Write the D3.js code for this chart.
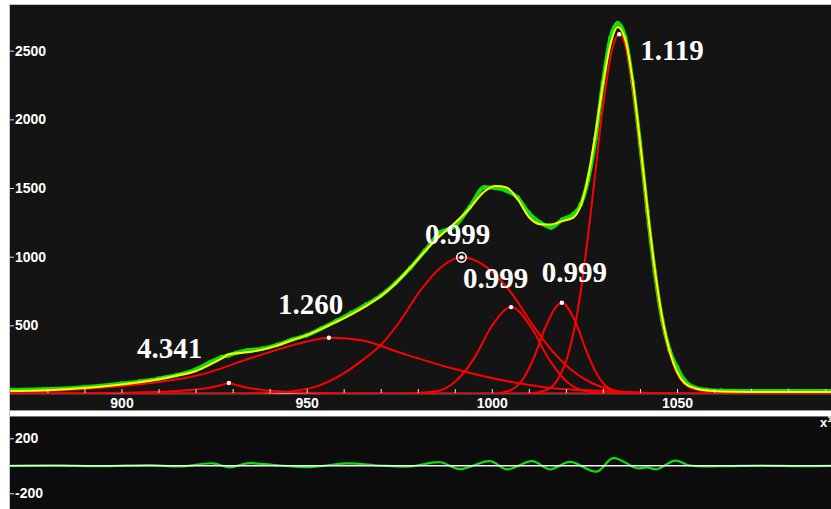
<!DOCTYPE html>
<html><head><meta charset="utf-8">
<script src="https://cdn.jsdelivr.net/npm/d3@7"></script>
<style>
html,body{margin:0;padding:0;background:#fff;overflow:hidden;}
svg{display:block;}
</style></head><body>
<svg id="chart" width="831" height="509"></svg>
<script>
// ---------- DATA ----------
const xGrid = [870,880,890,900,905,910,915,920,924,927,929,931,934,938,942,946,950,954,958,962,966,970,974,978,982,986,990,994,998,1001,1004,1007,1010,1013,1016,1019,1022,1024,1026,1028,1030,1032,1034,1036,1038,1040,1042,1044,1046,1048,1050,1052,1055,1058,1062,1070,1080,1092];
const fitY  = [21,28,44,70,85,107,134,166,215,258,290,296,304,323,352,391,427,474,525,578,640,712,805,920,1040,1150,1245,1351,1475,1514,1504,1417,1289,1237,1235,1259,1285,1371,1580,1900,2254,2541,2672,2584,2283,1839,1352,908,557,312,161,80,40,25,18,15,14,14];
const obsY  = [30,36,50,76,92,112,138,178,232,268,282,300,318,330,358,396,428,478,532,590,650,716,808,918,1046,1176,1222,1360,1505,1500,1480,1430,1318,1250,1212,1270,1310,1380,1560,1860,2270,2590,2700,2600,2270,1830,1330,890,540,320,195,100,45,30,24,22,22,22];

const comp1 = [[870,4],[890,6],[905,12],[915,22],[920,32],[924,48],[927,65],[929,80],[931,65],[934,46],[938,30],[944,17],[952,9],[965,4],[990,1],[1092,0]];
const comp2 = [[870,16],[880,22],[894,44],[908,80],[921,138],[935,262],[948.5,371],[956,410],[964.5,393],[975.5,298],[989,189],[1002.5,102],[1016,44],[1030,22],[1043,7],[1060,2],[1092,0]];
const comp3 = [[900,1],[930,3],[942,12],[952,50],[960,150],[965,245],[970.3,365],[975.2,530],[980.6,750],[986.4,925],[991.8,995],[998,935],[1005.3,735],[1010.7,517],[1016.1,320],[1021.5,175],[1027,80],[1032.4,29],[1040.5,7],[1060,1],[1092,0]];
const comp4 = [[975,0],[980,8],[985,20],[990,88],[995,250],[1000,495],[1005.2,633],[1010.5,490],[1015.5,250],[1020.5,84],[1025.5,19],[1031,3],[1045,0]];
const comp5 = [[995,0],[1000,1],[1004.5,22],[1008.5,113],[1011.5,273],[1014.5,488],[1018.9,665],[1022.5,530],[1025.5,315],[1028.5,138],[1032.5,29],[1037.5,3],[1050,0]];
const comp6 = [[1005,0],[1010,3],[1015,33],[1018,115],[1021,325],[1024,744],[1027,1387],[1030,2092],[1032.4,2500],[1034.4,2620],[1036.5,2490],[1039,2049],[1042,1338],[1045,706],[1048,305],[1051,107],[1055,32],[1060,14],[1070,10],[1092,8]];
const components = [comp1, comp2, comp3, comp4, comp5, comp6];

const peakX = [929, 956, 991.8, 1005.2, 1018.9, 1034.4];
const peakY = [80, 410, 995, 633, 665, 2620];
const peakLabels = ["4.341","1.260","0.999","0.999","0.999","1.119"];
const selectedPeak = 2;

const resX = [869.9,883.4,894.2,907.7,915.8,924.7,929.3,933.9,942.8,950.9,960.9,969.8,977.9,986,991.4,999.5,1004.1,1010.9,1015.7,1021.1,1028.4,1032.7,1039.2,1042,1044.6,1049.5,1053.5,1061.6,1072.4,1083.2,1091.6];
const resY = [0,3,-3,5,-5,18,-12,18,2,-10,18,2,-5,26,-24,34,-26,34,-26,28,-42,56,-18,-12,-25,38,2,-3,2,-2,0];

const yTicks = [500,1000,1500,2000,2500];
const xMinorTicks = [880,890,900,910,920,930,940,950,960,970,980,990,1000,1010,1020,1030,1040,1050,1060,1070,1080,1090];
const xTickLabels = [900,950,1000,1050];
const resTicks = [-200,200];

// ---------- LAYOUT ----------
const W = 831;
const labelOffsets = [[-92,-25],[-51,-24],[-36.5,-13],[-48,-19],[-20,-21],[21,26]];

const svg = d3.select("#chart");
const x = d3.scaleLinear().domain([900,1050]).range([121.5,677]);
const y = d3.scaleLinear().domain([0,2500]).range([394,50.7]);
const yr = d3.scaleLinear().domain([-200,200]).range([493.3,438.3]);

// backgrounds
svg.append("rect").attr("x",10).attr("y",5).attr("width",W-10).attr("height",405).attr("fill","#141414");
svg.append("line").attr("x1",9).attr("x2",W).attr("y1",4.5).attr("y2",4.5).attr("stroke","#c4c4c4");
svg.append("line").attr("x1",9.5).attr("x2",9.5).attr("y1",4).attr("y2",509).attr("stroke","#c4c4c4");
svg.append("rect").attr("x",10).attr("y",410).attr("width",W-10).attr("height",7).attr("fill","#ffffff");
svg.append("line").attr("x1",10).attr("x2",W).attr("y1",410.5).attr("y2",410.5).attr("stroke","#9a9a9a");
svg.append("line").attr("x1",10).attr("x2",W).attr("y1",416.5).attr("y2",416.5).attr("stroke","#777");
svg.append("rect").attr("x",10).attr("y",417).attr("width",W-10).attr("height",92).attr("fill","#0c0c0c");

const defs = svg.append("defs");
defs.append("clipPath").attr("id","clipMain").append("rect").attr("x",10).attr("y",5).attr("width",W-10).attr("height",389);
defs.append("clipPath").attr("id","clipRes").append("rect").attr("x",10).attr("y",417).attr("width",W-10).attr("height",92);

// axis line
svg.append("line").attr("x1",10).attr("x2",W).attr("y1",393.5).attr("y2",393.5).attr("stroke","#a8a8a8").attr("stroke-width",1.5);

const plot = svg.append("g").attr("clip-path","url(#clipMain)");
const line = d3.line().x(d=>x(d[0])).y(d=>y(d[1])).curve(d3.curveMonotoneX);

// observed (green)
const obs = xGrid.map((v,i)=>[v,obsY[i]]);
plot.append("path").datum(obs).attr("d",line).attr("fill","none").attr("stroke","#12dc12").attr("stroke-width",4);
plot.selectAll("circle.obs").data(obs).join("circle").attr("class","obs")
  .attr("cx",d=>x(d[0])).attr("cy",d=>y(d[1])).attr("r",2.4).attr("fill","#12dc12");

// components (red)
components.forEach(c=>{
  plot.append("path").datum(c).attr("d",line).attr("fill","none").attr("stroke","#ff0000").attr("stroke-width",2);
});

// fit envelope (yellow)
const fit = xGrid.map((v,i)=>[v,fitY[i]]);
plot.append("path").datum(fit).attr("d",line).attr("fill","none").attr("stroke","#ffff00").attr("stroke-width",2);

// markers
peakX.forEach((px,i)=>{
  plot.append("circle").attr("cx",x(px)).attr("cy",y(peakY[i])).attr("r",2.2).attr("fill","#fff");
  if(i===selectedPeak){
    plot.append("circle").attr("cx",x(px)).attr("cy",y(peakY[i])).attr("r",4.8).attr("fill","none").attr("stroke","#fff").attr("stroke-width",1.5);
  }
});

// peak labels
peakLabels.forEach((t,i)=>{
  svg.append("text").attr("x",x(peakX[i])+labelOffsets[i][0]).attr("y",y(peakY[i])+labelOffsets[i][1])
    .attr("fill","#fff").attr("font-family","'Liberation Serif','Times New Roman',serif")
    .attr("font-weight","bold").attr("font-size",29).text(t);
});

// y axis main
const yAxis = svg.append("g").attr("transform","translate(10,0)")
  .call(d3.axisRight(y).tickValues(yTicks).tickSize(4).tickPadding(1).tickFormat(d=>String(d)));
yAxis.select(".domain").remove();
yAxis.selectAll("line").attr("stroke","#ddd");
yAxis.selectAll("text").attr("fill","#fff").attr("font-family","'Liberation Sans',Arial,sans-serif").attr("font-weight","bold").attr("font-size",14);

// x axis
const xAxis = svg.append("g").attr("transform","translate(0,393)")
  .call(d3.axisBottom(x).tickValues(xMinorTicks).tickSizeInner(-4).tickSizeOuter(0).tickPadding(5)
    .tickFormat(d=>xTickLabels.includes(d)?String(d):""));
xAxis.select(".domain").remove();
xAxis.selectAll("line").attr("stroke","#e8e8e8");
xAxis.selectAll("text").attr("fill","#fff").attr("font-family","'Liberation Sans',Arial,sans-serif").attr("font-weight","bold").attr("font-size",14);

// residual panel
const rplot = svg.append("g").attr("clip-path","url(#clipRes)");
const rline = d3.line().x((d,i)=>x(resX[i])).y(d=>yr(d)).curve(d3.curveCatmullRom);
rplot.append("path").datum(resY).attr("d",rline).attr("fill","none").attr("stroke","#12dc12").attr("stroke-width",2.2);
rplot.append("line").attr("x1",10).attr("x2",W).attr("y1",yr(0)).attr("y2",yr(0)).attr("stroke","#fff").attr("stroke-width",1.6).attr("opacity",0.95);

const rAxis = svg.append("g").attr("transform","translate(10,0)")
  .call(d3.axisRight(yr).tickValues(resTicks).tickSize(4).tickPadding(1).tickFormat(d=>String(d)));
rAxis.select(".domain").remove();
rAxis.selectAll("line").attr("stroke","#ddd");
rAxis.selectAll("text").attr("fill","#fff").attr("font-family","'Liberation Sans',Arial,sans-serif").attr("font-weight","bold").attr("font-size",14);

// scale factor text (cut by the window edge, as in the reference)
const sf = svg.append("text").attr("x",820).attr("y",427).attr("fill","#fff")
  .attr("font-family","'Liberation Sans',Arial,sans-serif").attr("font-weight","bold").attr("font-size",13);
sf.append("tspan").text("x");
sf.append("tspan").attr("dy",-5).attr("font-size",9).text("10");
</script>
</body></html>
